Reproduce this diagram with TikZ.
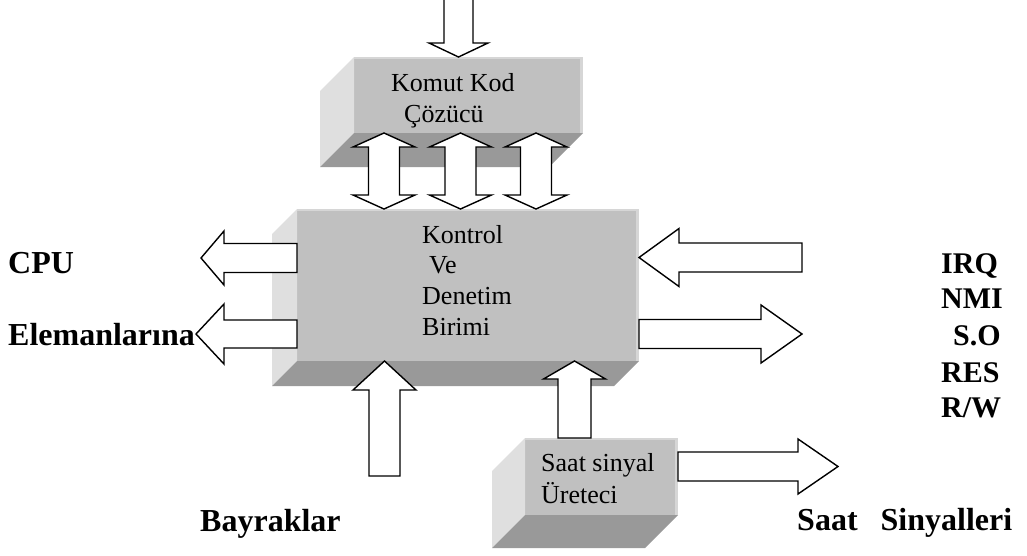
\documentclass[tikz,border=0pt]{standalone}
\usepackage{fontspec}
\setmainfont{Liberation Serif}
\usetikzlibrary{calc}

\definecolor{faceC}{RGB}{192,192,192}
\definecolor{sideC}{RGB}{223,223,223}
\definecolor{floorC}{RGB}{153,153,153}
\definecolor{rimC}{RGB}{214,214,214}

\tikzset{
  face/.style={fill=faceC, draw=none, inner sep=0pt, outer sep=0pt},
  sideface/.style={fill=sideC},
  floorface/.style={fill=floorC},
  blockarrow/.style={draw=black, fill=white, line width=1.4pt, line join=miter},
  boxtext/.style={anchor=base west, inner sep=0pt, font=\fontsize{26}{31}\selectfont},
  sidelabel/.style={anchor=base west, inner sep=0pt, font=\fontsize{32}{38}\selectfont\bfseries},
  siglabel/.style={anchor=base west, inner sep=0pt, font=\fontsize{30}{36}\selectfont\bfseries},
}

% extruded faces of a box: left side and floor, plus light rims on the top and right
\newcommand\bevelbox[2]{%
  \fill[sideface] (#1.north west) -- ++(-#2,#2) -- ($(#1.south west)+(-#2,#2)$) -- (#1.south west) -- cycle;
  \fill[floorface] (#1.south west) -- (#1.south east) -- ++(-#2,#2) -- ($(#1.south west)+(-#2,#2)$) -- cycle;
  \fill[rimC] ($(#1.north east)+(-3,0)$) rectangle (#1.south east);
  \fill[rimC] (#1.north west) rectangle ($(#1.north east)+(0,1.5)$);
}

% block arrow: tail, tip, shaft half-width, head half-width, head length
\newcommand\blockarr[5]{%
  \draw[blockarrow]
    ($(#1)!#3!90:(#2)$) --
    ($(#2)!#5!(#1)!#3!90:(#2)$) --
    ($(#2)!#5!(#1)!#4!90:(#2)$) --
    (#2) --
    ($(#2)!#5!(#1)!#4!-90:(#2)$) --
    ($(#2)!#5!(#1)!#3!-90:(#2)$) --
    ($(#1)!#3!-90:(#2)$) -- cycle;
}

% double-headed block arrow: end A, end B, shaft half-width, head half-width, head length
\newcommand\dblarr[5]{%
  \draw[blockarrow]
    (#1) --
    ($(#1)!#5!(#2)!#4!90:(#2)$) --
    ($(#1)!#5!(#2)!#3!90:(#2)$) --
    ($(#2)!#5!(#1)!#3!-90:(#1)$) --
    ($(#2)!#5!(#1)!#4!-90:(#1)$) --
    (#2) --
    ($(#2)!#5!(#1)!#4!90:(#1)$) --
    ($(#2)!#5!(#1)!#3!90:(#1)$) --
    ($(#1)!#5!(#2)!#3!-90:(#2)$) --
    ($(#1)!#5!(#2)!#4!-90:(#2)$) -- cycle;
}

\begin{document}
\begin{tikzpicture}[x=1pt, y=-1pt]
\useasboundingbox (0,0) rectangle (1027,555);

% front faces
\node[face, minimum width=229pt, minimum height=76pt]  (komut)   at (468.5,95)  {};
\node[face, minimum width=342pt, minimum height=152pt] (kontrol) at (468,285)   {};
\node[face, minimum width=153pt, minimum height=77pt]  (saat)    at (601.5,476.5) {};

\bevelbox{komut}{34}
\bevelbox{kontrol}{25}
\bevelbox{saat}{33}

% box texts
\node[boxtext] (t1) at (391,91)  {Komut Kod};
\node[boxtext] (t2) at (404,122) {Çözücü};
\node[boxtext] (t3) at (422,243) {Kontrol};
\node[boxtext] (t4) at (429,273) {Ve};
\node[boxtext] (t5) at (422,304) {Denetim};
\node[boxtext] (t6) at (422,335) {Birimi};
\node[boxtext] (t7) at (541,471) {Saat sinyal};
\node[boxtext] (t8) at (541,503) {Üreteci};

% connector end points
\coordinate (cmdin) at (458.5,-3);
\coordinate (cmdtip) at (cmdin |- komut.north);
\foreach \n/\x in {a/384, b/460.5, c/536} {
  \coordinate (bus\n) at (\x,0);
  \coordinate (top\n) at (bus\n |- komut.south);
  \coordinate (bot\n) at (bus\n |- kontrol.north);
}
\coordinate (cpuA) at (201,258);
\coordinate (cpuAt) at (cpuA -| kontrol.west);
\coordinate (cpuB) at (196,334);
\coordinate (cpuBt) at (cpuB -| kontrol.west);
\coordinate (irqin) at (802,257.5);
\coordinate (irqtip) at (irqin -| kontrol.east);
\coordinate (sigout) at (802,334);
\coordinate (sigoutt) at (sigout -| kontrol.east);
\coordinate (flagin) at (384.5,476);
\coordinate (flagtip) at (flagin |- kontrol.south);
\coordinate (clk) at (574.5,0);
\coordinate (clkt) at (clk |- saat.north);
\coordinate (clktip) at (clk |- kontrol.south);
\coordinate (clkout) at (838,466.5);
\coordinate (clkoutt) at (clkout -| saat.east);

% connectors
\blockarr{cmdin}{cmdtip}{14.5pt}{29.5pt}{14pt}
\dblarr{topa}{bota}{15.5pt}{31pt}{14pt}
\dblarr{topb}{botb}{15.5pt}{31pt}{14pt}
\dblarr{topc}{botc}{15.5pt}{31pt}{14pt}
\blockarr{cpuAt}{cpuA}{14.5pt}{27pt}{23pt}
\blockarr{cpuBt}{cpuB}{14pt}{30pt}{28pt}
\blockarr{irqin}{irqtip}{14.5pt}{29pt}{40pt}
\blockarr{sigoutt}{sigout}{14.5pt}{29pt}{41pt}
\blockarr{flagin}{flagtip}{15.5pt}{31.5pt}{29pt}
\blockarr{clkt}{clktip}{16.5pt}{31pt}{18pt}
\blockarr{clkoutt}{clkout}{14.5pt}{27.5pt}{40pt}

% outside labels
\node[sidelabel] (cpu) at (8,273) {CPU};
\node[sidelabel] (elem) at (8,345) {Elemanlarına};
\node[sidelabel] (flags) at (200,531) {Bayraklar};
\node[sidelabel] (clksig) at (797,530) {Saat\hspace{23pt}Sinyalleri};
\node[siglabel] (irq) at (941,273) {IRQ};
\node[siglabel] (nmi) at (941,308) {NMI};
\node[siglabel] (so)  at (953,345) {S.O};
\node[siglabel] (res) at (941,382) {RES};
\node[siglabel] (rw)  at (941,417) {R/W};
\end{tikzpicture}
\end{document}
